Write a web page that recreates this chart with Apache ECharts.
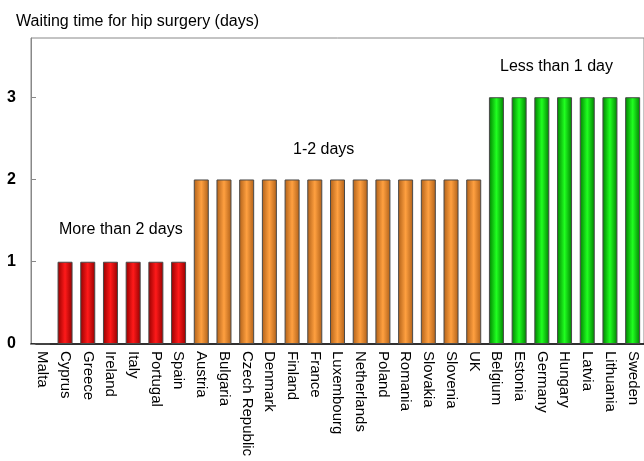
<!DOCTYPE html>
<html><head><meta charset="utf-8">
<script src="https://cdn.jsdelivr.net/npm/echarts@6/dist/echarts.min.js"></script>
<style>html,body{margin:0;padding:0;background:#fff}#c{width:644px;height:461px}</style>
</head><body><div id="c"></div>
<script>
const categories = ['Malta','Cyprus','Greece','Ireland','Italy','Portugal','Spain','Austria','Bulgaria','Czech Republic','Denmark','Finland','France','Luxembourg','Netherlands','Poland','Romania','Slovakia','Slovenia','UK','Belgium','Estonia','Germany','Hungary','Latvia','Lithuania','Sweden'];
const values = [0,1,1,1,1,1,1,2,2,2,2,2,2,2,2,2,2,2,2,2,3,3,3,3,3,3,3];
const groupLabels = ['More than 2 days','1-2 days','Less than 1 day'];
const yTicks = [0,1,2,3];

function grad(edge, mid){
  return new echarts.graphic.LinearGradient(0,0,1,0,[
    {offset:0,color:edge},{offset:0.5,color:mid},{offset:1,color:edge}]);
}
const styles = {
  1: {color: grad('#950000','#ff1a1a')},
  2: {color: grad('#b06018','#ffa040')},
  3: {color: grad('#008000','#20ff20')}
};
const data = values.map(v => ({value: v, itemStyle: Object.assign({borderColor:'#4a4a4a', borderWidth:1}, styles[v] || {})}));
const FONT = '"Liberation Sans", Arial';

const chart = echarts.init(document.getElementById('c'));
chart.setOption({
  animation:false,
  title:{text:'Waiting time for hip surgery (days)', left:11, top:9,
    textStyle:{fontFamily:FONT, fontSize:16, fontWeight:'normal', color:'#000'}},
  grid:{left:31, right:0, top:38, bottom:117, show:true, borderColor:'#888', borderWidth:1},
  xAxis:{type:'category', data:categories,
    axisLine:{lineStyle:{color:'#000', width:1.5}},
    axisTick:{show:false},
    axisLabel:{rotate:-90, interval:0, margin:7, color:'#000', fontFamily:FONT, fontSize:15}},
  yAxis:{type:'value', min:0, max:3.72, interval:1,
    splitLine:{show:false},
    axisLine:{show:true, lineStyle:{color:'#888'}},
    axisTick:{show:true, inside:true, length:5, lineStyle:{color:'#888'}},
    axisLabel:{showMaxLabel:false, margin:15, color:'#000', fontWeight:'bold', fontFamily:FONT, fontSize:16,
      formatter: v => yTicks.includes(v) ? String(v) : ''}},
  series:[{type:'bar', data:data, barWidth:15}],
  graphic:[
    {type:'text', left:59, top:222, style:{text:groupLabels[0], font:'16px ' + FONT, fill:'#000'}},
    {type:'text', left:293, top:142, style:{text:groupLabels[1], font:'16px ' + FONT, fill:'#000'}},
    {type:'text', left:500, top:59, style:{text:groupLabels[2], font:'16px ' + FONT, fill:'#000'}}
  ]
});
</script></body></html>
